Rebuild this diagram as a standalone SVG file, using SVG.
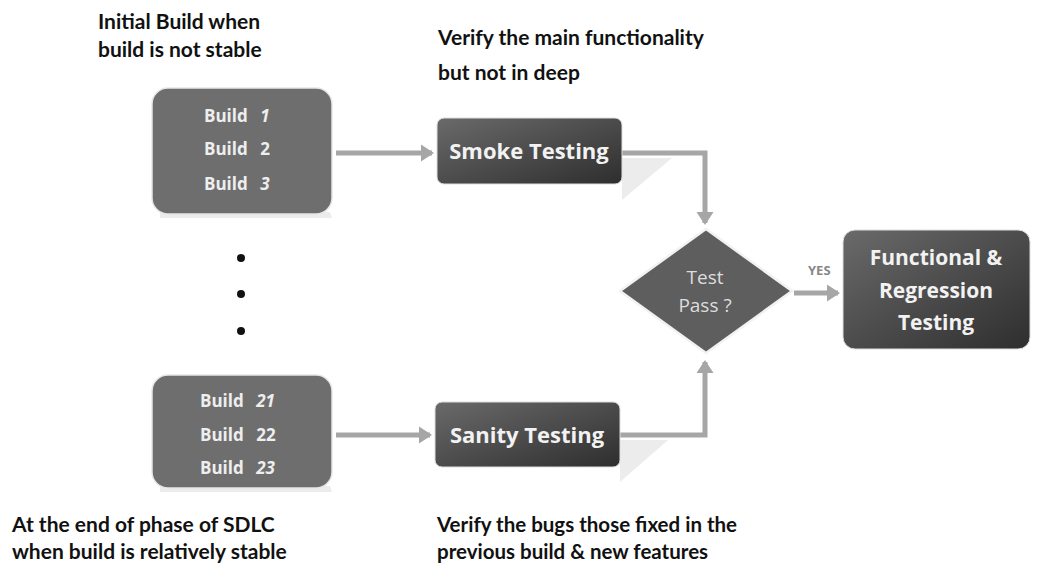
<svg xmlns="http://www.w3.org/2000/svg" width="1047" height="567" viewBox="0 0 1047 567">
<defs>
<style>
.cap{font-family:Lato,"Liberation Sans",sans-serif;font-weight:bold;font-size:21px;fill:#111}
.bt{font-family:"Open Sans","Liberation Sans",sans-serif;font-weight:bold;font-size:17px;fill:#eeeeee}
.bn{font-style:italic}
.nt{font-family:"Open Sans","Liberation Sans",sans-serif;font-weight:bold;font-size:21px;fill:#f2f2f2;text-anchor:middle}
.dt{font-family:"Open Sans","Liberation Sans",sans-serif;font-size:19px;fill:#dddddd;text-anchor:middle}
.con{fill:none;stroke:#a6a6a6;stroke-width:5}
.build{fill:#6e6e6e;stroke:#e6e6e6;stroke-width:1.5}
.shadow{fill:#cfcfcf;opacity:0.4}
</style>
<linearGradient id="dark" x1="0" y1="0" x2="1" y2="1">
<stop offset="0" stop-color="#6a6a6a"/>
<stop offset="1" stop-color="#2e2e2e"/>
</linearGradient>
<marker id="ah" markerWidth="4" markerHeight="4" refX="2.2" refY="2" orient="auto" markerUnits="strokeWidth">
<path d="M0,0.3 L2.6,2 L0,3.7 Z" fill="#a6a6a6"/>
</marker>
</defs>

<g id="captions">
<text class="cap" x="98" y="29">Initial Build when</text>
<text class="cap" x="98" y="57">build is not stable</text>
<text class="cap" x="438" y="45">Verify the main functionality</text>
<text class="cap" x="438" y="80">but not in deep</text>
<text class="cap" x="12" y="532">At the end of phase of SDLC</text>
<text class="cap" x="12" y="559">when build is relatively stable</text>
<text class="cap" x="437" y="532" style="font-size:20.5px">Verify the bugs those fixed in the</text>
<text class="cap" x="437" y="559" style="font-size:20.5px">previous build &amp; new features</text>
</g>

<g id="connectors">
<line class="con" x1="336" y1="153" x2="432" y2="153" marker-end="url(#ah)"/>
<polyline class="con" points="622,153 705,153 705,223" marker-end="url(#ah)"/>
<line class="con" x1="336" y1="435" x2="430" y2="435" marker-end="url(#ah)"/>
<polyline class="con" points="620,435 705,435 705,362" marker-end="url(#ah)"/>
<line class="con" x1="794" y1="293" x2="838" y2="293" marker-end="url(#ah)"/>
<text x="808" y="275" style="font-family:'Open Sans','Liberation Sans',sans-serif;font-weight:bold;font-size:13px;fill:#888">YES</text>
</g>

<g id="builds1">
<path class="shadow" d="M160,212 L330,212 L332,218 L160,218 Z"/>
<rect class="build" x="152" y="88" width="180" height="126" rx="16"/>
<text class="bt" x="204" y="122">Build <tspan class="bn" dx="8">1</tspan></text>
<text class="bt" x="204" y="155">Build <tspan dx="8">2</tspan></text>
<text class="bt" x="204" y="190">Build <tspan class="bn" dx="8">3</tspan></text>
</g>

<g id="dots">
<circle cx="241" cy="258" r="4" fill="#111"/>
<circle cx="241" cy="294" r="4" fill="#111"/>
<circle cx="241" cy="331" r="4" fill="#111"/>
</g>

<g id="builds2">
<path class="shadow" d="M160,486 L330,486 L332,492 L160,492 Z"/>
<rect class="build" x="152" y="375" width="180" height="113" rx="16"/>
<text class="bt" x="200" y="407">Build <tspan class="bn" dx="8">21</tspan></text>
<text class="bt" x="200" y="441">Build <tspan dx="8">22</tspan></text>
<text class="bt" x="200" y="474">Build <tspan class="bn" dx="8">23</tspan></text>
</g>

<g id="smoke">
<path class="shadow" d="M622,158 L672,158 L622,200 Z"/>
<rect x="437" y="118" width="185" height="66" rx="7" fill="url(#dark)" stroke="#dddddd" stroke-width="1"/>
<text class="nt" x="529" y="159" style="font-size:22px">Smoke Testing</text>
</g>

<g id="sanity">
<path class="shadow" d="M620,440 L668,440 L620,482 Z"/>
<rect x="435" y="402" width="185" height="65" rx="7" fill="url(#dark)" stroke="#dddddd" stroke-width="1"/>
<text class="nt" x="527" y="443" style="font-size:22px">Sanity Testing</text>
</g>

<g id="decision">
<polygon points="706,229 792,291 706,353 620,291" fill="#5e5e5e" stroke="#f2f2f2" stroke-width="2.5"/>
<text class="dt" x="705" y="284">Test</text>
<text class="dt" x="705" y="312">Pass ?</text>
</g>

<g id="functional">
<rect x="843" y="230" width="187" height="119" rx="12" fill="url(#dark)" stroke="#dddddd" stroke-width="1"/>
<text class="nt" x="936" y="265">Functional &amp;</text>
<text class="nt" x="936" y="298">Regression</text>
<text class="nt" x="936" y="330">Testing</text>
</g>
</svg>
